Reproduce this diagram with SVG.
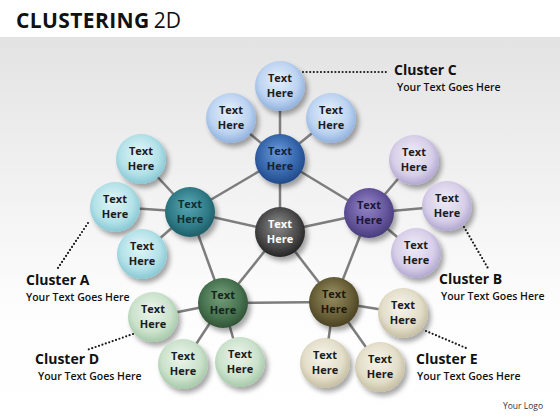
<svg xmlns="http://www.w3.org/2000/svg" width="560" height="420" viewBox="0 0 560 420">
<defs>
<linearGradient id="bg" x1="0" y1="0" x2="0" y2="1">
<stop offset="0" stop-color="#e3e3e3"/>
<stop offset="0.7" stop-color="#fdfdfd"/>
<stop offset="1" stop-color="#ffffff"/>
</linearGradient>
<filter id="sh" x="-40%" y="-40%" width="190%" height="190%">
<feGaussianBlur in="SourceAlpha" stdDeviation="2.5"/>
<feOffset dx="3" dy="4" result="b"/>
<feComponentTransfer><feFuncA type="linear" slope="0.35"/></feComponentTransfer>
<feMerge><feMergeNode/><feMergeNode in="SourceGraphic"/></feMerge>
</filter>
<radialGradient id="bL" cx="0.48" cy="0.45" r="0.6" fx="0.45" fy="0.35"><stop offset="0" stop-color="#e6f0fc"/><stop offset="0.65" stop-color="#bcd3f1"/><stop offset="1" stop-color="#86a9d9"/></radialGradient>
<radialGradient id="bD" cx="0.48" cy="0.45" r="0.6" fx="0.45" fy="0.35"><stop offset="0" stop-color="#6a9bdb"/><stop offset="0.65" stop-color="#3565ab"/><stop offset="1" stop-color="#1d4380"/></radialGradient>
<radialGradient id="tL" cx="0.48" cy="0.45" r="0.6" fx="0.45" fy="0.35"><stop offset="0" stop-color="#e2f6f8"/><stop offset="0.65" stop-color="#b3e1e8"/><stop offset="1" stop-color="#7cc2cf"/></radialGradient>
<radialGradient id="tD" cx="0.48" cy="0.45" r="0.6" fx="0.45" fy="0.35"><stop offset="0" stop-color="#5aa8b4"/><stop offset="0.65" stop-color="#2f7b87"/><stop offset="1" stop-color="#1b565f"/></radialGradient>
<radialGradient id="pL" cx="0.48" cy="0.45" r="0.6" fx="0.45" fy="0.35"><stop offset="0" stop-color="#f0ecf7"/><stop offset="0.65" stop-color="#d6cfe8"/><stop offset="1" stop-color="#a99dcb"/></radialGradient>
<radialGradient id="pD" cx="0.48" cy="0.45" r="0.6" fx="0.45" fy="0.35"><stop offset="0" stop-color="#9587c8"/><stop offset="0.65" stop-color="#64559c"/><stop offset="1" stop-color="#413672"/></radialGradient>
<radialGradient id="gL" cx="0.48" cy="0.45" r="0.6" fx="0.45" fy="0.35"><stop offset="0" stop-color="#ecf5ec"/><stop offset="0.65" stop-color="#cbe2cc"/><stop offset="1" stop-color="#9dc3a1"/></radialGradient>
<radialGradient id="gD" cx="0.48" cy="0.45" r="0.6" fx="0.45" fy="0.35"><stop offset="0" stop-color="#76a07c"/><stop offset="0.65" stop-color="#47724f"/><stop offset="1" stop-color="#2b4c31"/></radialGradient>
<radialGradient id="oL" cx="0.48" cy="0.45" r="0.6" fx="0.45" fy="0.35"><stop offset="0" stop-color="#f7f5ec"/><stop offset="0.65" stop-color="#e3dec9"/><stop offset="1" stop-color="#bdb699"/></radialGradient>
<radialGradient id="oD" cx="0.48" cy="0.45" r="0.6" fx="0.45" fy="0.35"><stop offset="0" stop-color="#9a9064"/><stop offset="0.65" stop-color="#675e37"/><stop offset="1" stop-color="#423c1e"/></radialGradient>
<radialGradient id="kD" cx="0.48" cy="0.45" r="0.6" fx="0.45" fy="0.35"><stop offset="0" stop-color="#8c8c8c"/><stop offset="0.65" stop-color="#4a4a4a"/><stop offset="1" stop-color="#1c1c1c"/></radialGradient>
</defs>
<style>
.n text{font-family:"Open Sans","DejaVu Sans",sans-serif;font-size:11px;font-weight:bold;text-anchor:middle;fill:#1c1c1c}
.n circle{filter:url(#sh)}
.ln{stroke:#7d7d7d;stroke-width:2.5;fill:none}
.dot{stroke:#1a1a1a;stroke-width:2.2;stroke-linecap:round;stroke-dasharray:0 3.6;fill:none}
.ct{font-family:"Open Sans","DejaVu Sans",sans-serif;font-size:14px;font-weight:bold;fill:#111}
.cs{font-family:"Open Sans","DejaVu Sans",sans-serif;font-size:10.5px;font-weight:600;fill:#111}
</style>
<rect x="0" y="0" width="560" height="420" fill="#ffffff"/>
<rect x="0" y="37" width="560" height="383" fill="url(#bg)"/>
<text x="16" y="28" font-family="'Open Sans','DejaVu Sans',sans-serif" font-size="21" fill="#111"><tspan font-weight="bold" letter-spacing="0.4">CLUSTERING</tspan><tspan font-weight="normal" dx="4">2D</tspan></text>

<g id="connectors">
<line class="ln" x1="280" y1="232" x2="280" y2="159"/>
<line class="ln" x1="280" y1="232" x2="190" y2="212"/>
<line class="ln" x1="280" y1="232" x2="369" y2="213"/>
<line class="ln" x1="280" y1="232" x2="223" y2="303"/>
<line class="ln" x1="280" y1="232" x2="334" y2="302"/>
<line class="ln" x1="280" y1="159" x2="190" y2="212"/>
<line class="ln" x1="280" y1="159" x2="369" y2="213"/>
<line class="ln" x1="190" y1="212" x2="223" y2="303"/>
<line class="ln" x1="369" y1="213" x2="334" y2="302"/>
<line class="ln" x1="223" y1="303" x2="334" y2="302"/>
<line class="ln" x1="280" y1="159" x2="280" y2="86"/>
<line class="ln" x1="280" y1="159" x2="231" y2="118"/>
<line class="ln" x1="280" y1="159" x2="331" y2="118"/>
<line class="ln" x1="190" y1="212" x2="141" y2="159"/>
<line class="ln" x1="190" y1="212" x2="115" y2="207"/>
<line class="ln" x1="190" y1="212" x2="142" y2="254"/>
<line class="ln" x1="369" y1="213" x2="414" y2="160"/>
<line class="ln" x1="369" y1="213" x2="447" y2="206"/>
<line class="ln" x1="369" y1="213" x2="416" y2="253"/>
<line class="ln" x1="223" y1="303" x2="153" y2="317"/>
<line class="ln" x1="223" y1="303" x2="183" y2="364"/>
<line class="ln" x1="223" y1="303" x2="240" y2="362"/>
<line class="ln" x1="334" y1="302" x2="403" y2="313"/>
<line class="ln" x1="334" y1="302" x2="325" y2="363"/>
<line class="ln" x1="334" y1="302" x2="380" y2="367"/>
<line class="dot" x1="303" y1="72" x2="387" y2="72"/>
<line class="dot" x1="88" y1="223" x2="58" y2="268"/>
<line class="dot" x1="464" y1="227" x2="489" y2="270"/>
<line class="dot" x1="133" y1="334" x2="87" y2="350"/>
<line class="dot" x1="426" y1="331" x2="466" y2="348"/>
</g>

<g id="node-center" class="n"><circle cx="280" cy="232" r="25" fill="url(#kD)"/><text x="280" y="228" style="fill:#ffffff">Text</text><text x="280" y="243" style="fill:#ffffff">Here</text></g>

<g id="node-c-hub" class="n"><circle cx="280" cy="159" r="25" fill="url(#bD)"/><text x="280" y="155" style="fill:#14233a">Text</text><text x="280" y="170" style="fill:#14233a">Here</text></g>
<g id="node-c1" class="n"><circle cx="280" cy="86" r="25" fill="url(#bL)"/><text x="280" y="82">Text</text><text x="280" y="97">Here</text></g>
<g id="node-c2" class="n"><circle cx="231" cy="118" r="25" fill="url(#bL)"/><text x="231" y="114">Text</text><text x="231" y="129">Here</text></g>
<g id="node-c3" class="n"><circle cx="331" cy="118" r="25" fill="url(#bL)"/><text x="331" y="114">Text</text><text x="331" y="129">Here</text></g>

<g id="node-a-hub" class="n"><circle cx="190" cy="212" r="25" fill="url(#tD)"/><text x="190" y="208" style="fill:#0f2e33">Text</text><text x="190" y="223" style="fill:#0f2e33">Here</text></g>
<g id="node-a1" class="n"><circle cx="141" cy="159" r="25" fill="url(#tL)"/><text x="141" y="155">Text</text><text x="141" y="170">Here</text></g>
<g id="node-a2" class="n"><circle cx="115" cy="207" r="25" fill="url(#tL)"/><text x="115" y="203">Text</text><text x="115" y="218">Here</text></g>
<g id="node-a3" class="n"><circle cx="142" cy="254" r="25" fill="url(#tL)"/><text x="142" y="250">Text</text><text x="142" y="265">Here</text></g>

<g id="node-b-hub" class="n"><circle cx="369" cy="213" r="25" fill="url(#pD)"/><text x="369" y="209" style="fill:#1d1736">Text</text><text x="369" y="224" style="fill:#1d1736">Here</text></g>
<g id="node-b1" class="n"><circle cx="414" cy="160" r="25" fill="url(#pL)"/><text x="414" y="156">Text</text><text x="414" y="171">Here</text></g>
<g id="node-b2" class="n"><circle cx="447" cy="206" r="25" fill="url(#pL)"/><text x="447" y="202">Text</text><text x="447" y="217">Here</text></g>
<g id="node-b3" class="n"><circle cx="416" cy="253" r="25" fill="url(#pL)"/><text x="416" y="249">Text</text><text x="416" y="264">Here</text></g>

<g id="node-d-hub" class="n"><circle cx="223" cy="303" r="25" fill="url(#gD)"/><text x="223" y="299" style="fill:#13251a">Text</text><text x="223" y="314" style="fill:#13251a">Here</text></g>
<g id="node-d1" class="n"><circle cx="153" cy="317" r="25" fill="url(#gL)"/><text x="153" y="313">Text</text><text x="153" y="328">Here</text></g>
<g id="node-d2" class="n"><circle cx="183" cy="364" r="25" fill="url(#gL)"/><text x="183" y="360">Text</text><text x="183" y="375">Here</text></g>
<g id="node-d3" class="n"><circle cx="240" cy="362" r="25" fill="url(#gL)"/><text x="240" y="358">Text</text><text x="240" y="373">Here</text></g>

<g id="node-e-hub" class="n"><circle cx="334" cy="302" r="25" fill="url(#oD)"/><text x="334" y="298" style="fill:#1d190b">Text</text><text x="334" y="313" style="fill:#1d190b">Here</text></g>
<g id="node-e1" class="n"><circle cx="403" cy="313" r="25" fill="url(#oL)"/><text x="403" y="309">Text</text><text x="403" y="324">Here</text></g>
<g id="node-e2" class="n"><circle cx="325" cy="363" r="25" fill="url(#oL)"/><text x="325" y="359">Text</text><text x="325" y="374">Here</text></g>
<g id="node-e3" class="n"><circle cx="380" cy="367" r="25" fill="url(#oL)"/><text x="380" y="363">Text</text><text x="380" y="378">Here</text></g>

<g id="label-c"><text class="ct" x="394" y="75">Cluster C</text><text class="cs" x="397" y="91">Your Text Goes Here</text></g>
<g id="label-a"><text class="ct" x="26" y="285">Cluster A</text><text class="cs" x="26" y="301">Your Text Goes Here</text></g>
<g id="label-b"><text class="ct" x="439" y="284">Cluster B</text><text class="cs" x="441" y="300">Your Text Goes Here</text></g>
<g id="label-d"><text class="ct" x="35" y="364">Cluster D</text><text class="cs" x="38" y="380">Your Text Goes Here</text></g>
<g id="label-e"><text class="ct" x="416" y="364">Cluster E</text><text class="cs" x="417" y="380">Your Text Goes Here</text></g>
<text x="503" y="409" font-family="'Open Sans','DejaVu Sans',sans-serif" font-size="8.5" fill="#333">Your Logo</text>
</svg>
